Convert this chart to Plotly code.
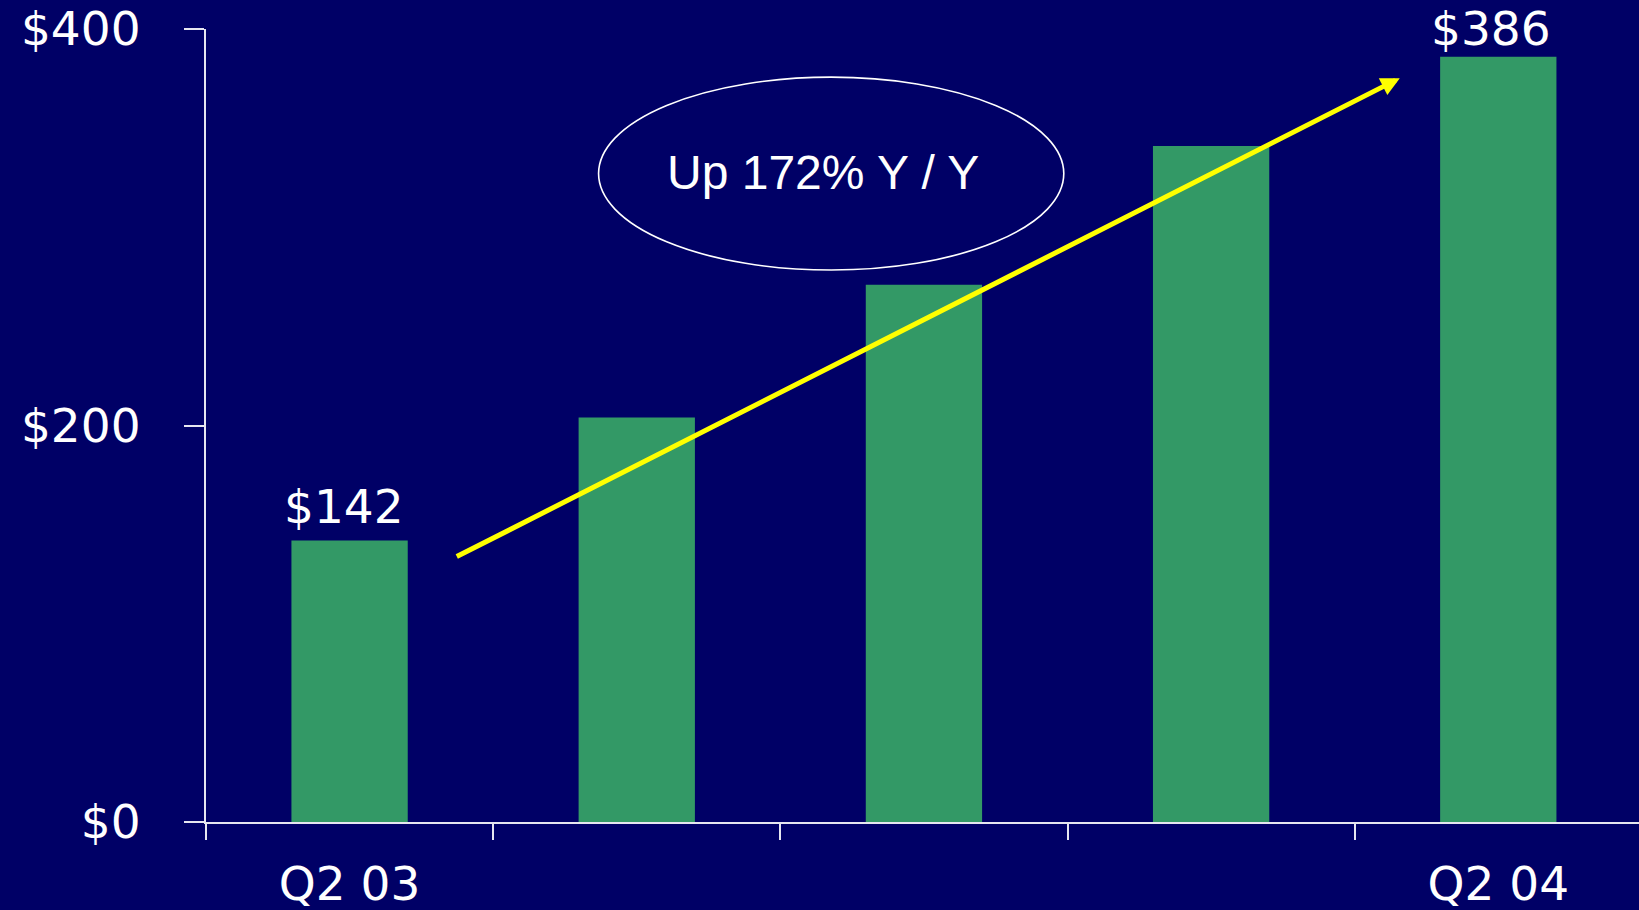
import plotly.graph_objects as go

# Quarterly figures ($), Q2 03 through Q2 04
quarters = ["Q2 03", "Q3 03", "Q4 03", "Q1 04", "Q2 04"]
values = [142, 204, 271, 341, 386]
axis_labels = ["Q2 03", "", "", "", "Q2 04"]
y_ticks = [0, 200, 400]
y_tick_labels = ["$0", "$200", "$400"]
labelled = [0, 4]          # bars that carry a value label
callout = "Up 172% Y / Y"

BG = "#000066"
BAR = "#339966"
AXIS = "#E6E6F0"
LABEL_FONT = "DejaVu Sans"
NOTE_FONT = "Liberation Sans, Arial"

fig = go.Figure(
    go.Bar(
        x=quarters,
        y=values,
        width=0.405,
        marker=dict(color=BAR, line=dict(width=0)),
        hoverinfo="skip",
    )
)

# value labels above the first and last bar
label_shift = {0: (-6, 34), 4: (-7, 28)}
for i in labelled:
    dx, dy = label_shift[i]
    fig.add_annotation(
        x=i, y=values[i], xref="x", yref="y",
        text=f"${values[i]}", showarrow=False,
        xshift=dx, yshift=dy, yanchor="middle",
        font=dict(family=LABEL_FONT, size=47, color="white"),
    )

# trend arrow
fig.add_annotation(
    x=3.657, y=375.2, ax=0.368, ay=133.5,
    xref="x", yref="y", axref="x", ayref="y",
    text="", showarrow=True,
    arrowhead=2, arrowsize=0.75, arrowwidth=5, arrowcolor="#FFFF00",
)

# growth callout in an ellipse
fig.add_shape(
    type="circle", xref="x", yref="y",
    x0=0.867, x1=2.487, y0=278.4, y1=375.7,
    line=dict(color="white", width=1.6),
)
fig.add_annotation(
    x=1.65, y=327.4, xref="x", yref="y",
    text=callout, showarrow=False,
    font=dict(family=NOTE_FONT, size=48, color="white"),
)

fig.update_layout(
    width=1639, height=910,
    margin=dict(l=206, r=0, t=29, b=88),
    paper_bgcolor=BG, plot_bgcolor=BG,
    showlegend=False,
    xaxis=dict(
        type="category",
        range=[-0.5, 4.49],
        tickmode="array", tickvals=quarters, ticktext=axis_labels,
        tickson="boundaries",
        ticks="outside", ticklen=16, tickwidth=2, tickcolor=AXIS,
        showline=True, linecolor=AXIS, linewidth=2,
        showgrid=False, zeroline=False, automargin=False,
        ticklabelstandoff=20,
        tickfont=dict(family=LABEL_FONT, size=47, color="white"),
    ),
    yaxis=dict(
        range=[0, 400],
        tickmode="array", tickvals=y_ticks, ticktext=y_tick_labels,
        ticks="outside", ticklen=20, tickwidth=2, tickcolor=AXIS,
        showline=True, linecolor=AXIS, linewidth=2,
        showgrid=False, zeroline=False, automargin=False,
        ticklabelstandoff=34,
        tickfont=dict(family=LABEL_FONT, size=47, color="white"),
    ),
)

fig.write_html("out.html")
